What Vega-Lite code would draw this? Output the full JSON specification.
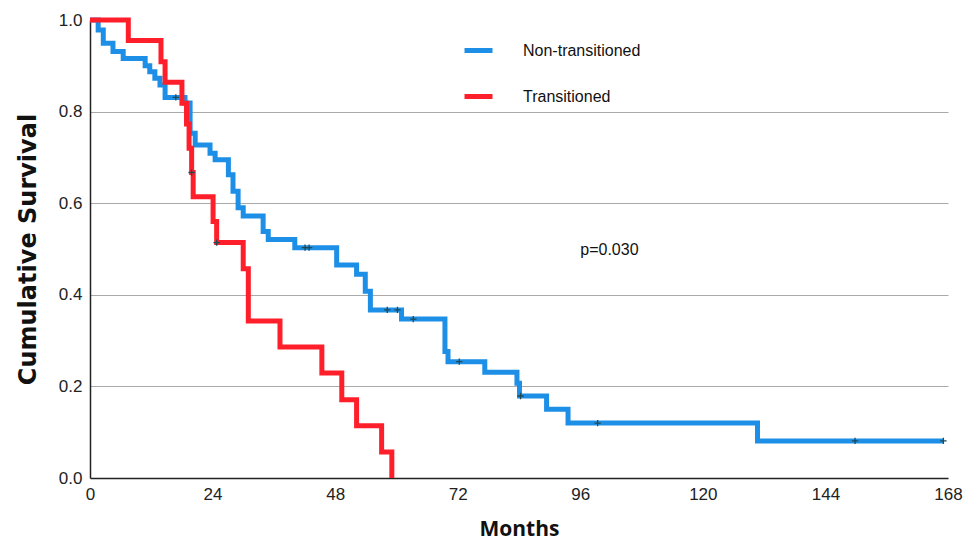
{
  "$schema": "https://vega.github.io/schema/vega-lite/v6.json",
  "width": 858,
  "height": 458,
  "autosize": {"type": "none"},
  "padding": {"left": 90, "top": 20, "right": 32, "bottom": 63},
  "background": "white",
  "config": {
    "view": {"stroke": null},
    "axis": {"labelFont": "Liberation Sans", "labelFontSize": 17, "labelColor": "#222", "titleFont": "Open Sans", "titleFontSize": 21, "titleFontWeight": "bold", "titleColor": "#111", "ticks": false, "domainColor": "#222", "domainWidth": 1.5, "labelFlush": false, "labelBound": false}
  },
  "datasets": {
    "km": [
      {"group": "Non-transitioned", "month": 0, "surv": 1.0},
      {"group": "Non-transitioned", "month": 1.6, "surv": 0.978},
      {"group": "Non-transitioned", "month": 2.6, "surv": 0.949},
      {"group": "Non-transitioned", "month": 4.5, "surv": 0.931},
      {"group": "Non-transitioned", "month": 6.5, "surv": 0.916},
      {"group": "Non-transitioned", "month": 10.8, "surv": 0.9},
      {"group": "Non-transitioned", "month": 11.7, "surv": 0.887},
      {"group": "Non-transitioned", "month": 12.7, "surv": 0.873},
      {"group": "Non-transitioned", "month": 13.7, "surv": 0.858},
      {"group": "Non-transitioned", "month": 14.7, "surv": 0.831},
      {"group": "Non-transitioned", "month": 18.6, "surv": 0.819},
      {"group": "Non-transitioned", "month": 19.6, "surv": 0.753},
      {"group": "Non-transitioned", "month": 20.6, "surv": 0.727},
      {"group": "Non-transitioned", "month": 23.5, "surv": 0.709},
      {"group": "Non-transitioned", "month": 24.5, "surv": 0.695},
      {"group": "Non-transitioned", "month": 27.1, "surv": 0.662},
      {"group": "Non-transitioned", "month": 28.0, "surv": 0.626},
      {"group": "Non-transitioned", "month": 29.0, "surv": 0.59},
      {"group": "Non-transitioned", "month": 30.0, "surv": 0.572},
      {"group": "Non-transitioned", "month": 33.9, "surv": 0.538},
      {"group": "Non-transitioned", "month": 34.9, "surv": 0.521},
      {"group": "Non-transitioned", "month": 40.1, "surv": 0.503},
      {"group": "Non-transitioned", "month": 48.3, "surv": 0.465},
      {"group": "Non-transitioned", "month": 52.2, "surv": 0.445},
      {"group": "Non-transitioned", "month": 53.9, "surv": 0.408},
      {"group": "Non-transitioned", "month": 54.9, "surv": 0.367},
      {"group": "Non-transitioned", "month": 61.0, "surv": 0.347},
      {"group": "Non-transitioned", "month": 69.5, "surv": 0.276},
      {"group": "Non-transitioned", "month": 70.1, "surv": 0.254},
      {"group": "Non-transitioned", "month": 77.3, "surv": 0.231},
      {"group": "Non-transitioned", "month": 83.6, "surv": 0.207},
      {"group": "Non-transitioned", "month": 84.1, "surv": 0.179},
      {"group": "Non-transitioned", "month": 89.4, "surv": 0.15},
      {"group": "Non-transitioned", "month": 93.6, "surv": 0.12},
      {"group": "Non-transitioned", "month": 130.7, "surv": 0.081},
      {"group": "Non-transitioned", "month": 167.1, "surv": 0.081},
      {"group": "Transitioned", "month": 0, "surv": 1.0},
      {"group": "Transitioned", "month": 7.5, "surv": 0.955},
      {"group": "Transitioned", "month": 13.9, "surv": 0.909},
      {"group": "Transitioned", "month": 14.7, "surv": 0.864},
      {"group": "Transitioned", "month": 18.0, "surv": 0.818},
      {"group": "Transitioned", "month": 18.9, "surv": 0.773},
      {"group": "Transitioned", "month": 19.4, "surv": 0.72},
      {"group": "Transitioned", "month": 19.9, "surv": 0.667},
      {"group": "Transitioned", "month": 20.2, "surv": 0.614},
      {"group": "Transitioned", "month": 24.1, "surv": 0.56},
      {"group": "Transitioned", "month": 24.8, "surv": 0.514},
      {"group": "Transitioned", "month": 30.0, "surv": 0.457},
      {"group": "Transitioned", "month": 31.0, "surv": 0.343},
      {"group": "Transitioned", "month": 37.2, "surv": 0.286},
      {"group": "Transitioned", "month": 45.4, "surv": 0.229},
      {"group": "Transitioned", "month": 49.3, "surv": 0.171},
      {"group": "Transitioned", "month": 52.2, "surv": 0.114},
      {"group": "Transitioned", "month": 57.1, "surv": 0.057},
      {"group": "Transitioned", "month": 59.1, "surv": 0.0}
    ],
    "cens": [
      {"group": "Non-transitioned", "month": 16.8, "surv": 0.831},
      {"group": "Non-transitioned", "month": 42.1, "surv": 0.503},
      {"group": "Non-transitioned", "month": 42.9, "surv": 0.503},
      {"group": "Non-transitioned", "month": 58.2, "surv": 0.367},
      {"group": "Non-transitioned", "month": 60.2, "surv": 0.367},
      {"group": "Non-transitioned", "month": 63.3, "surv": 0.347},
      {"group": "Non-transitioned", "month": 72.3, "surv": 0.254},
      {"group": "Non-transitioned", "month": 84.3, "surv": 0.179},
      {"group": "Non-transitioned", "month": 99.4, "surv": 0.12},
      {"group": "Non-transitioned", "month": 149.8, "surv": 0.081},
      {"group": "Non-transitioned", "month": 167.1, "surv": 0.081},
      {"group": "Transitioned", "month": 19.9, "surv": 0.667},
      {"group": "Transitioned", "month": 24.8, "surv": 0.514}
    ],
    "notes": [
      {"month": 96, "surv": 0.498, "label": "p=0.030"}
    ]
  },
  "layer": [
    {
      "data": {"name": "km"},
      "mark": {"type": "line", "interpolate": "step-after", "strokeWidth": 5, "strokeJoin": "miter", "strokeCap": "butt"},
      "encoding": {
        "x": {"field": "month", "type": "quantitative", "scale": {"domain": [0, 168], "nice": false}, "axis": {"values": [0, 24, 48, 72, 96, 120, 144, 168], "title": "Months", "grid": false, "labelPadding": 8, "titlePadding": 16}},
        "y": {"field": "surv", "type": "quantitative", "scale": {"domain": [0, 1], "nice": false}, "axis": {"values": [0, 0.2, 0.4, 0.6, 0.8, 1.0], "format": ".1f", "title": "Cumulative Survival", "titleFont": "DejaVu Sans", "titleFontSize": 24, "grid": true, "gridColor": "#AAAAAA", "gridWidth": 1, "gridOpacity": {"condition": {"test": "datum.value >= 1 || datum.value <= 0", "value": 0}, "value": 1}, "labelPadding": 8, "titlePadding": 18}},
        "color": {"field": "group", "type": "nominal", "scale": {"domain": ["Non-transitioned", "Transitioned"], "range": ["#1E8FE6", "#FF1F2A"]}, "legend": {"title": null, "orient": "none", "legendX": 372, "legendY": 14, "symbolType": "stroke", "symbolSize": 784, "symbolStrokeWidth": 5, "labelOffset": 28, "rowPadding": 19, "padding": 0, "labelFont": "Liberation Sans", "labelFontSize": 16, "labelColor": "#111"}},
        "order": {"field": "month", "type": "quantitative"}
      }
    },
    {
      "data": {"name": "cens"},
      "mark": {"type": "point", "shape": "M-1,0H1M0,-1V1", "size": 40, "strokeWidth": 1.3, "color": "#1F4A55", "filled": false, "opacity": 1},
      "encoding": {
        "x": {"field": "month", "type": "quantitative"},
        "y": {"field": "surv", "type": "quantitative"}
      }
    },
    {
      "data": {"name": "notes"},
      "mark": {"type": "text", "align": "left", "baseline": "middle", "font": "Liberation Sans", "fontSize": 16, "color": "#111"},
      "encoding": {
        "x": {"field": "month", "type": "quantitative"},
        "y": {"field": "surv", "type": "quantitative"},
        "text": {"field": "label"}
      }
    }
  ]
}
